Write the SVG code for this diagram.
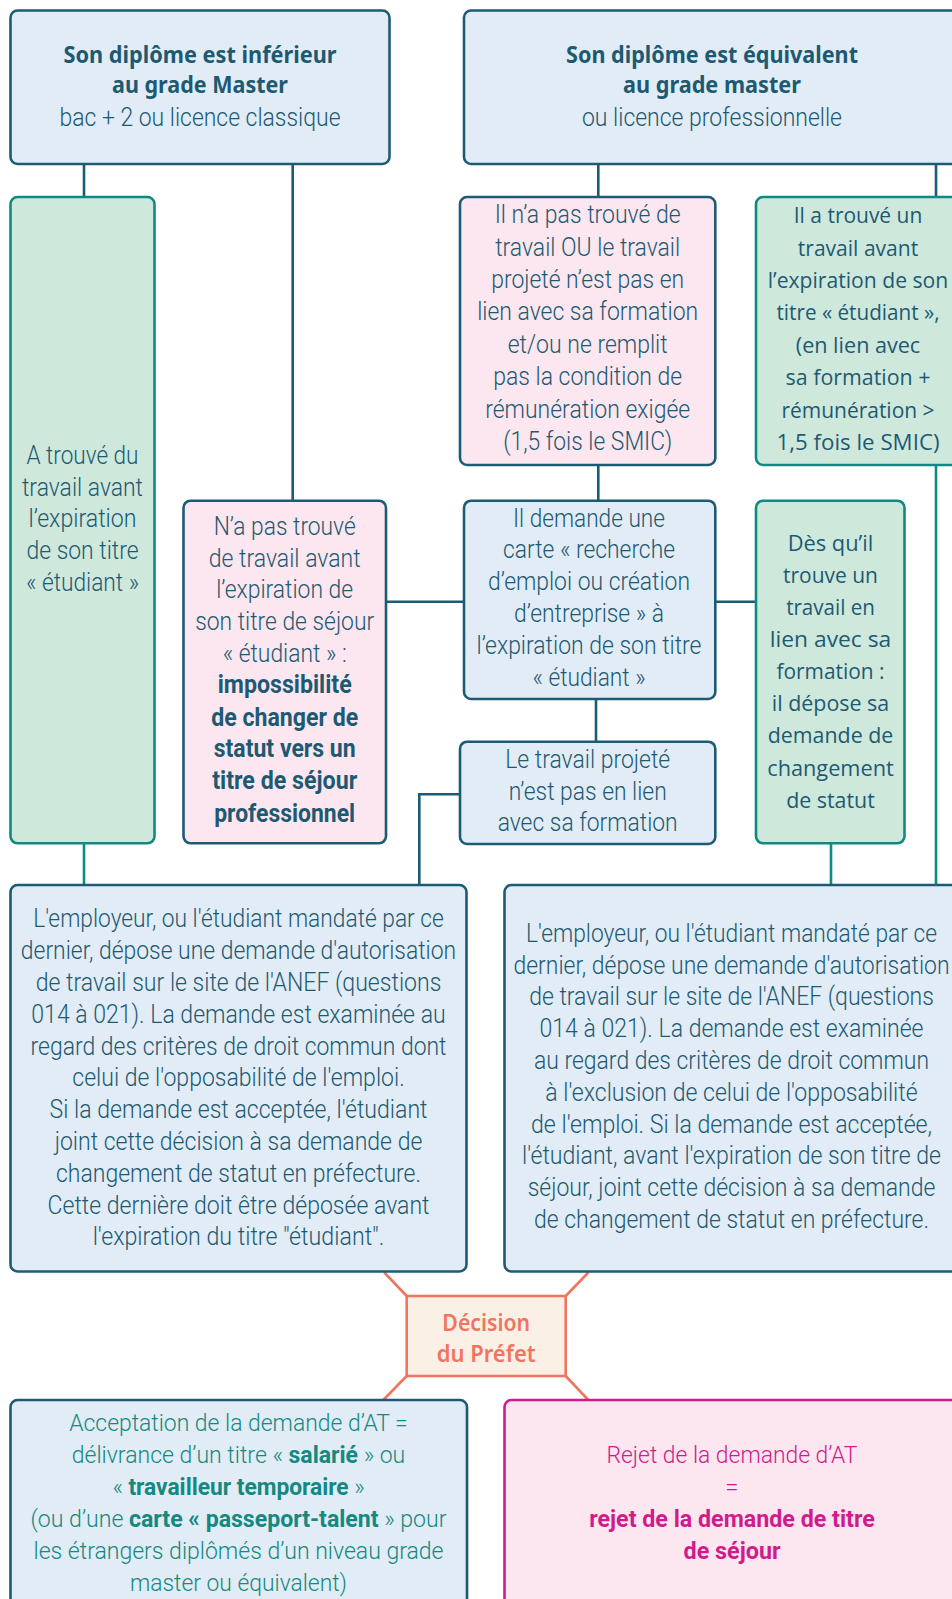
<svg xmlns="http://www.w3.org/2000/svg" width="952" height="1599" viewBox="0 0 952 1599">
<style>
.bx{stroke-width:2.6}
.blue{fill:#e1ecf6;stroke:#1d5b75}
.pink{fill:#fce6ef;stroke:#1d5b75}
.green{fill:#cfe8dc;stroke:#0e8a84}
.dec{fill:#fbf0e6;stroke:#f07560;stroke-width:2.6}
.rej{fill:#fce6ef;stroke:#d21a8c}
.cn{fill:none;stroke:#1d5b75;stroke-width:2.6}
.ct{fill:none;stroke:#0e8a84;stroke-width:2.6}
.cs{fill:none;stroke:#f07560;stroke-width:2.6}
text{text-anchor:middle;fill:#1d5a72}
.t{font-family:Roboto,"Liberation Sans",sans-serif;font-weight:300;font-size:25px}
.tb{font-family:Roboto,"Liberation Sans",sans-serif;font-weight:700;font-size:25px}
.s{font-size:24px}
.h{font-family:"Noto Sans","Open Sans",sans-serif;font-weight:700;font-size:24px}
.o{font-family:"Open Sans","Noto Sans",sans-serif;font-weight:400;font-size:21.5px}
.d{font-family:"Noto Sans","Open Sans",sans-serif;font-weight:600;font-size:23px;fill:#f07560}
.acc{fill:#13897f}
.mg{fill:#d21a8c}
.bo{font-weight:700}
</style>
<g id="connectors">
<path class="cn" d="M84 164V197"/>
<path class="cn" d="M292.7 164V500.7"/>
<path class="cn" d="M598.3 164V197"/>
<path class="cn" d="M936 164V197"/>
<path class="cn" d="M598.3 465V500.7"/>
<path class="cn" d="M386 601.7H464"/>
<path class="cn" d="M715.3 601.7H756"/>
<path class="cn" d="M596 699V741.7"/>
<path class="cn" d="M460 794.3H419.3V885"/>
<path class="ct" d="M84 843.3V885"/>
<path class="ct" d="M831 843.3V885"/>
<path class="ct" d="M936 465V885"/>
<path class="cs" d="M384.3 1272.5L406.7 1296"/>
<path class="cs" d="M588.3 1272.5L565.7 1296"/>
<path class="cs" d="M406.7 1376L383.3 1400"/>
<path class="cs" d="M565.7 1376L588.3 1400"/>
</g>
<g id="n-header-left">
<rect class="bx blue" x="10.5" y="10.5" width="379" height="153.5" rx="7"/>
<text class="h" x="200" y="62.7" textLength="273" lengthAdjust="spacingAndGlyphs">Son diplôme est inférieur</text>
<text class="h" x="200" y="93.3" textLength="176" lengthAdjust="spacingAndGlyphs">au grade Master</text>
<text class="t" x="200" y="126" textLength="281" lengthAdjust="spacingAndGlyphs">bac + 2 ou licence classique</text>
</g>
<g id="n-header-right">
<rect class="bx blue" x="464" y="10.5" width="500" height="153.5" rx="7"/>
<text class="h" x="712" y="62.7" textLength="292" lengthAdjust="spacingAndGlyphs">Son diplôme est équivalent</text>
<text class="h" x="712" y="93.3" textLength="178" lengthAdjust="spacingAndGlyphs">au grade master</text>
<text class="t" x="712" y="126" textLength="260" lengthAdjust="spacingAndGlyphs">ou licence professionnelle</text>
</g>
<g id="n-trouve-left">
<rect class="bx green" x="10.5" y="197" width="144" height="646.3" rx="7"/>
<text class="t" x="82.5" y="464" textLength="112" lengthAdjust="spacingAndGlyphs">A trouvé du</text>
<text class="t" x="82.5" y="495.7" textLength="121" lengthAdjust="spacingAndGlyphs">travail avant</text>
<text class="t" x="82.5" y="527.3" textLength="108" lengthAdjust="spacingAndGlyphs">l’expiration</text>
<text class="t" x="82.5" y="559" textLength="112" lengthAdjust="spacingAndGlyphs">de son titre</text>
<text class="t" x="82.5" y="590.7" textLength="113" lengthAdjust="spacingAndGlyphs">« étudiant »</text>
</g>
<g id="n-pas-trouve-left">
<rect class="bx pink" x="183.5" y="500.7" width="202.5" height="342.6" rx="7"/>
<text class="t" x="284.7" y="535" textLength="142" lengthAdjust="spacingAndGlyphs">N’a pas trouvé</text>
<text class="t" x="284.7" y="566.7" textLength="152" lengthAdjust="spacingAndGlyphs">de travail avant</text>
<text class="t" x="284.7" y="598.3" textLength="137" lengthAdjust="spacingAndGlyphs">l’expiration de</text>
<text class="t" x="284.7" y="630" textLength="179" lengthAdjust="spacingAndGlyphs">son titre de séjour</text>
<text class="t" x="284.7" y="661.7" textLength="124" lengthAdjust="spacingAndGlyphs">« étudiant » :</text>
<text class="tb" x="284.7" y="693.3" textLength="134" lengthAdjust="spacingAndGlyphs">impossibilité</text>
<text class="tb" x="284.7" y="725.7" textLength="147" lengthAdjust="spacingAndGlyphs">de changer de</text>
<text class="tb" x="284.7" y="757.3" textLength="142" lengthAdjust="spacingAndGlyphs">statut vers un</text>
<text class="tb" x="284.7" y="789.3" textLength="145" lengthAdjust="spacingAndGlyphs">titre de séjour</text>
<text class="tb" x="284.7" y="821.7" textLength="141" lengthAdjust="spacingAndGlyphs">professionnel</text>
</g>
<g id="n-pas-trouve-right">
<rect class="bx pink" x="460" y="197" width="255.3" height="268" rx="7"/>
<text class="t" x="587.7" y="223.3" textLength="186" lengthAdjust="spacingAndGlyphs">Il n’a pas trouvé de</text>
<text class="t" x="587.7" y="255.7" textLength="185" lengthAdjust="spacingAndGlyphs">travail OU le travail</text>
<text class="t" x="587.7" y="288" textLength="193" lengthAdjust="spacingAndGlyphs">projeté n’est pas en</text>
<text class="t" x="587.7" y="320.4" textLength="221" lengthAdjust="spacingAndGlyphs">lien avec sa formation</text>
<text class="t" x="587.7" y="352.8" textLength="160" lengthAdjust="spacingAndGlyphs">et/ou ne remplit</text>
<text class="t" x="587.7" y="385.2" textLength="189" lengthAdjust="spacingAndGlyphs">pas la condition de</text>
<text class="t" x="587.7" y="417.6" textLength="205" lengthAdjust="spacingAndGlyphs">rémunération exigée</text>
<text class="t" x="587.7" y="450" textLength="169" lengthAdjust="spacingAndGlyphs">(1,5 fois le SMIC)</text>
</g>
<g id="n-trouve-right">
<rect class="bx green" x="756" y="197" width="210" height="268" rx="7"/>
<text class="o" x="858" y="223.3" textLength="128.5" lengthAdjust="spacingAndGlyphs">Il a trouvé un</text>
<text class="o" x="858" y="255.7" textLength="120.4" lengthAdjust="spacingAndGlyphs">travail avant</text>
<text class="o" x="858" y="288" textLength="180.5" lengthAdjust="spacingAndGlyphs">l’expiration de son</text>
<text class="o" x="858" y="320.4" textLength="163" lengthAdjust="spacingAndGlyphs">titre « étudiant »,</text>
<text class="o" x="858" y="352.8" textLength="124.4" lengthAdjust="spacingAndGlyphs">(en lien avec</text>
<text class="o" x="858" y="385.2" textLength="144.8" lengthAdjust="spacingAndGlyphs">sa formation +</text>
<text class="o" x="858" y="417.6" textLength="153" lengthAdjust="spacingAndGlyphs">rémunération &gt;</text>
<text class="o" x="858" y="450" textLength="163" lengthAdjust="spacingAndGlyphs">1,5 fois le SMIC)</text>
</g>
<g id="n-demande-carte">
<rect class="bx blue" x="464" y="500.7" width="251.3" height="198.3" rx="7"/>
<text class="t" x="589" y="527.3" textLength="152" lengthAdjust="spacingAndGlyphs">Il demande une</text>
<text class="t" x="589" y="558.3" textLength="172" lengthAdjust="spacingAndGlyphs">carte « recherche</text>
<text class="t" x="589" y="590" textLength="202" lengthAdjust="spacingAndGlyphs">d’emploi ou création</text>
<text class="t" x="589" y="622.3" textLength="150" lengthAdjust="spacingAndGlyphs">d’entreprise » à</text>
<text class="t" x="589" y="654" textLength="225" lengthAdjust="spacingAndGlyphs">l’expiration de son titre</text>
<text class="t" x="589" y="685.7" textLength="113" lengthAdjust="spacingAndGlyphs">« étudiant »</text>
</g>
<g id="n-travail-projete">
<rect class="bx blue" x="460" y="741.7" width="255.3" height="102.3" rx="7"/>
<text class="t" x="587.7" y="768.3" textLength="165" lengthAdjust="spacingAndGlyphs">Le travail projeté</text>
<text class="t" x="587.7" y="800" textLength="158" lengthAdjust="spacingAndGlyphs">n’est pas en lien</text>
<text class="t" x="587.7" y="830.7" textLength="180" lengthAdjust="spacingAndGlyphs">avec sa formation</text>
</g>
<g id="n-des-qu-il">
<rect class="bx green" x="756" y="500.7" width="148.5" height="342.6" rx="7"/>
<text class="o" x="830.5" y="550.8" textLength="85.7" lengthAdjust="spacingAndGlyphs">Dès qu’il</text>
<text class="o" x="830.5" y="582.9" textLength="94.9" lengthAdjust="spacingAndGlyphs">trouve un</text>
<text class="o" x="830.5" y="615" textLength="88.7" lengthAdjust="spacingAndGlyphs">travail en</text>
<text class="o" x="830.5" y="647.1" textLength="121.4" lengthAdjust="spacingAndGlyphs">lien avec sa</text>
<text class="o" x="830.5" y="679.2" textLength="108" lengthAdjust="spacingAndGlyphs">formation :</text>
<text class="o" x="830.5" y="711.3" textLength="117.3" lengthAdjust="spacingAndGlyphs">il dépose sa</text>
<text class="o" x="830.5" y="743.4" textLength="125.5" lengthAdjust="spacingAndGlyphs">demande de</text>
<text class="o" x="830.5" y="775.5" textLength="126.5" lengthAdjust="spacingAndGlyphs">changement</text>
<text class="o" x="830.5" y="807.6" textLength="88.7" lengthAdjust="spacingAndGlyphs">de statut</text>
</g>
<g id="n-employeur-left">
<rect class="bx blue" x="10.5" y="885" width="456" height="386.5" rx="7"/>
<text class="t" x="238.5" y="927.3" textLength="410.7" lengthAdjust="spacingAndGlyphs">L'employeur, ou l'étudiant mandaté par ce</text>
<text class="t" x="238.5" y="959.1" textLength="435.3" lengthAdjust="spacingAndGlyphs">dernier, dépose une demande d'autorisation</text>
<text class="t" x="238.5" y="990.9" textLength="405.7" lengthAdjust="spacingAndGlyphs">de travail sur le site de l'ANEF (questions</text>
<text class="t" x="238.5" y="1022.7" textLength="414.3" lengthAdjust="spacingAndGlyphs">014 à 021). La demande est examinée au</text>
<text class="t" x="238.5" y="1054.5" textLength="416" lengthAdjust="spacingAndGlyphs">regard des critères de droit commun dont</text>
<text class="t" x="238.5" y="1086.3" textLength="332.3" lengthAdjust="spacingAndGlyphs">celui de l'opposabilité de l'emploi.</text>
<text class="t" x="238.5" y="1118.1" textLength="378" lengthAdjust="spacingAndGlyphs">Si la demande est acceptée, l'étudiant</text>
<text class="t" x="238.5" y="1149.9" textLength="367.7" lengthAdjust="spacingAndGlyphs">joint cette décision à sa demande de</text>
<text class="t" x="238.5" y="1181.7" textLength="365" lengthAdjust="spacingAndGlyphs">changement de statut en préfecture.</text>
<text class="t" x="238.5" y="1213.5" textLength="382" lengthAdjust="spacingAndGlyphs">Cette dernière doit être déposée avant</text>
<text class="t" x="238.5" y="1245.3" textLength="291.7" lengthAdjust="spacingAndGlyphs">l'expiration du titre "étudiant".</text>
</g>
<g id="n-employeur-right">
<rect class="bx blue" x="504.5" y="885" width="460" height="386.5" rx="7"/>
<text class="t" x="731.5" y="941.7" textLength="411" lengthAdjust="spacingAndGlyphs">L'employeur, ou l'étudiant mandaté par ce</text>
<text class="t" x="731.5" y="973.5" textLength="436" lengthAdjust="spacingAndGlyphs">dernier, dépose une demande d'autorisation</text>
<text class="t" x="731.5" y="1005.3" textLength="404.7" lengthAdjust="spacingAndGlyphs">de travail sur le site de l'ANEF (questions</text>
<text class="t" x="731.5" y="1037.1" textLength="384" lengthAdjust="spacingAndGlyphs">014 à 021). La demande est examinée</text>
<text class="t" x="731.5" y="1068.9" textLength="395" lengthAdjust="spacingAndGlyphs">au regard des critères de droit commun</text>
<text class="t" x="731.5" y="1100.7" textLength="372.3" lengthAdjust="spacingAndGlyphs">à l'exclusion de celui de l'opposabilité</text>
<text class="t" x="731.5" y="1132.5" textLength="401" lengthAdjust="spacingAndGlyphs">de l'emploi. Si la demande est acceptée,</text>
<text class="t" x="731.5" y="1164.3" textLength="419" lengthAdjust="spacingAndGlyphs">l'étudiant, avant l'expiration de son titre de</text>
<text class="t" x="731.5" y="1196.1" textLength="407.7" lengthAdjust="spacingAndGlyphs">séjour, joint cette décision à sa demande</text>
<text class="t" x="731.5" y="1227.9" textLength="395" lengthAdjust="spacingAndGlyphs">de changement de statut en préfecture.</text>
</g>
<g id="n-decision">
<rect class="dec" x="406.7" y="1296" width="159" height="80"/>
<text class="d" x="486.2" y="1330.7" textLength="87.7" lengthAdjust="spacingAndGlyphs">Décision</text>
<text class="d" x="486.2" y="1361.7" textLength="99" lengthAdjust="spacingAndGlyphs">du Préfet</text>
</g>
<g id="n-acceptation">
<rect class="bx blue" x="10.5" y="1400" width="456.5" height="230" rx="7"/>
<text class="t s acc" x="238.5" y="1431" textLength="338.6" lengthAdjust="spacingAndGlyphs">Acceptation de la demande d’AT =</text>
<text class="t s acc" x="238.5" y="1463" textLength="333.5" lengthAdjust="spacingAndGlyphs">délivrance d’un titre « <tspan class="bo">salarié</tspan> » ou</text>
<text class="t s acc" x="238.5" y="1495" textLength="252" lengthAdjust="spacingAndGlyphs">« <tspan class="bo">travailleur temporaire</tspan> »</text>
<text class="t s acc" x="238.5" y="1527" textLength="416" lengthAdjust="spacingAndGlyphs">(ou d’une <tspan class="bo">carte « passeport-talent</tspan> » pour</text>
<text class="t s acc" x="238.5" y="1559" textLength="410" lengthAdjust="spacingAndGlyphs">les étrangers diplômés d’un niveau grade</text>
<text class="t s acc" x="238.5" y="1591" textLength="217" lengthAdjust="spacingAndGlyphs">master ou équivalent)</text>
</g>
<g id="n-rejet">
<rect class="bx rej" x="504.5" y="1400" width="460" height="230" rx="7"/>
<text class="t s mg" x="732" y="1463" textLength="251" lengthAdjust="spacingAndGlyphs">Rejet de la demande d’AT</text>
<text class="t s mg" x="732" y="1495">=</text>
<text class="tb s mg" x="732" y="1527" textLength="285.6" lengthAdjust="spacingAndGlyphs">rejet de la demande de titre</text>
<text class="tb s mg" x="732" y="1559" textLength="97" lengthAdjust="spacingAndGlyphs">de séjour</text>
</g>
</svg>
